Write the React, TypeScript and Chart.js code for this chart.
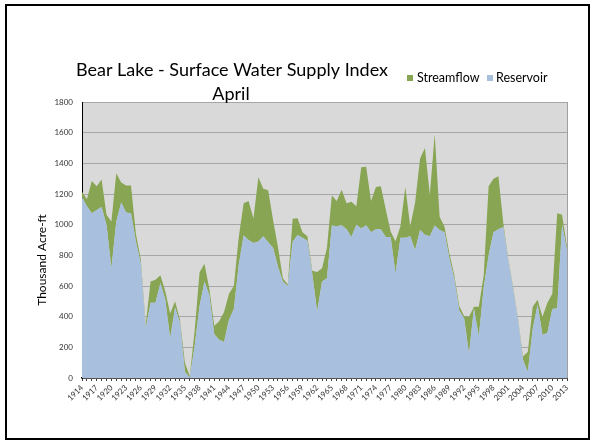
import React, { useEffect, useRef } from "react";
import { Chart, registerables } from "chart.js";

Chart.register(...registerables);

const years: number[] = [
  1914, 1915, 1916, 1917, 1918, 1919, 1920, 1921, 1922, 1923,
  1924, 1925, 1926, 1927, 1928, 1929, 1930, 1931, 1932, 1933,
  1934, 1935, 1936, 1937, 1938, 1939, 1940, 1941, 1942, 1943,
  1944, 1945, 1946, 1947, 1948, 1949, 1950, 1951, 1952, 1953,
  1954, 1955, 1956, 1957, 1958, 1959, 1960, 1961, 1962, 1963,
  1964, 1965, 1966, 1967, 1968, 1969, 1970, 1971, 1972, 1973,
  1974, 1975, 1976, 1977, 1978, 1979, 1980, 1981, 1982, 1983,
  1984, 1985, 1986, 1987, 1988, 1989, 1990, 1991, 1992, 1993,
  1994, 1995, 1996, 1997, 1998, 1999, 2000, 2001, 2002, 2003,
  2004, 2005, 2006, 2007, 2008, 2009, 2010, 2011, 2012, 2013,
];

// Reservoir storage (thousand acre-ft), April
const reservoir: number[] = [
  1180, 1120, 1075, 1095, 1115, 1000, 715, 1020, 1145, 1080,
  1075, 890, 745, 325, 490, 490, 620, 510, 260, 460,
  360, 40, 3, 210, 470, 630, 540, 285, 250, 235,
  380, 450, 740, 930, 900, 880, 890, 925, 885, 850,
  725, 630, 600, 888, 932, 915, 895, 680, 432, 630,
  650, 995, 990, 997, 970, 920, 1000, 975, 997, 950,
  970, 970, 920, 920, 682, 915, 915, 925, 834, 965,
  935, 925, 995, 965, 950, 780, 645, 440, 390, 160,
  455, 270, 590, 800, 950, 970, 985, 770, 580, 380,
  120, 40, 320, 480, 280, 295, 450, 455, 1000, 830,
];

// Streamflow (thousand acre-ft), stacked on reservoir
const streamflow: number[] = [
  35, 45, 210, 155, 180, 65, 305, 315, 130, 175,
  180, 50, 30, 20, 140, 150, 50, 55, 160, 40,
  20, 60, 10, 100, 220, 115, 40, 55, 120, 195,
  170, 150, 180, 210, 255, 160, 420, 310, 340, 180,
  130, 20, 10, 150, 110, 35, 30, 20, 260, 85,
  200, 195, 165, 230, 170, 230, 120, 400, 380, 205,
  275, 280, 180, 35, 210, 75, 330, 65, 310, 465,
  565, 270, 595, 86, 36, 32, 25, 30, 15, 240,
  10, 195, 80, 450, 350, 345, 25, 10, 10, 10,
  20, 130, 145, 30, 120, 195, 100, 620, 65, 25,
];

const titleLines: string[] = ["Bear Lake - Surface Water Supply Index", "April"];
const seriesNames: string[] = ["Streamflow", "Reservoir"];
const yAxisTitle = "Thousand Acre-ft";

const BLUE = "#a8bfdd";
const GREEN = "#87a553";
const FONT = "Lato, 'Open Sans', sans-serif";

const decorPlugin = {
  id: "decor",
  beforeDraw(chart: any) {
    const { ctx, chartArea: a, width, height } = chart;
    ctx.save();
    ctx.fillStyle = "#ffffff";
    ctx.fillRect(0, 0, width, height);
    ctx.fillStyle = "#d9d9d9";
    ctx.fillRect(a.left, a.top, a.right - a.left, a.bottom - a.top);
    ctx.restore();
  },
  afterDraw(chart: any) {
    const { ctx, chartArea: a } = chart;
    ctx.save();
    ctx.strokeStyle = "#a0a0a0";
    ctx.lineWidth = 1;
    ctx.beginPath();
    ctx.moveTo(a.right + 0.5, a.top);
    ctx.lineTo(a.right + 0.5, a.bottom);
    ctx.stroke();

    ctx.fillStyle = "#000";
    ctx.textAlign = "center";
    ctx.textBaseline = "middle";
    ctx.font = `18px ${FONT}`;
    ctx.fillText(titleLines[0], 232, 70);
    ctx.fillText(titleLines[1], 231, 94);

    ctx.font = `12.5px ${FONT}`;
    ctx.textAlign = "left";
    ctx.fillStyle = GREEN;
    ctx.fillRect(407, 75, 6, 6);
    ctx.fillStyle = "#000";
    ctx.fillText(seriesNames[0], 417, 78);
    ctx.fillStyle = BLUE;
    ctx.fillRect(487, 75, 6, 6);
    ctx.fillStyle = "#000";
    ctx.fillText(seriesNames[1], 496, 78);

    ctx.save();
    ctx.translate(42, 260);
    ctx.rotate(-Math.PI / 2);
    ctx.textAlign = "center";
    ctx.textBaseline = "middle";
    ctx.font = `12px ${FONT}`;
    ctx.fillText(yAxisTitle, 0, 0);
    ctx.restore();

    ctx.strokeStyle = "#000";
    ctx.lineWidth = 2;
    ctx.strokeRect(6, 5, 583, 434);
    ctx.restore();
  },
};

export default function App() {
  const ref = useRef<HTMLCanvasElement | null>(null);

  useEffect(() => {
    if (!ref.current) return;
    const chart = new Chart(ref.current, {
      type: "line",
      data: {
        labels: years.map(String),
        datasets: [
          {
            label: seriesNames[1],
            data: reservoir,
            backgroundColor: BLUE,
            borderColor: BLUE,
            borderWidth: 0,
            pointRadius: 0,
            fill: "origin",
            tension: 0,
          },
          {
            label: seriesNames[0],
            data: streamflow,
            backgroundColor: GREEN,
            borderColor: GREEN,
            borderWidth: 0,
            pointRadius: 0,
            fill: "-1",
            tension: 0,
          },
        ],
      },
      options: {
        animation: false,
        responsive: false,
        devicePixelRatio: 1,
        layout: { padding: { left: 32, right: 25, top: 102, bottom: 0 } },
        plugins: {
          legend: { display: false },
          title: { display: false },
          tooltip: { enabled: false },
          filler: { propagate: false },
        },
        scales: {
          x: {
            type: "category",
            offset: false,
            afterFit: (s: any) => {
              s.height = 66;
            },
            grid: {
              display: true,
              drawOnChartArea: false,
              drawTicks: true,
              tickLength: 3,
              color: "#404040",
            },
            border: { display: true, color: "#000", width: 1.5 },
            ticks: {
              autoSkip: false,
              maxRotation: 45,
              minRotation: 45,
              padding: 2,
              color: "#333",
              font: { family: FONT, size: 8 },
              callback: (_v: any, i: number) => (i % 3 === 0 ? String(years[i]) : ""),
            },
          },
          y: {
            stacked: true,
            min: 0,
            max: 1800,
            afterFit: (s: any) => {
              s.width = 50;
            },
            grid: { color: "#a6a6a6", lineWidth: 1, drawTicks: false },
            border: { display: true, color: "#000", width: 1 },
            ticks: {
              stepSize: 200,
              padding: 9,
              color: "#333",
              font: { family: FONT, size: 8 },
              callback: (v: any) => String(v),
            },
          },
        },
      },
      plugins: [decorPlugin],
    });
    return () => chart.destroy();
  }, []);

  return (
    <div style={{ position: "fixed", left: 0, top: 0, width: 592, height: 444 }}>
      <canvas ref={ref} width={592} height={444} style={{ width: 592, height: 444 }} />
    </div>
  );
}
